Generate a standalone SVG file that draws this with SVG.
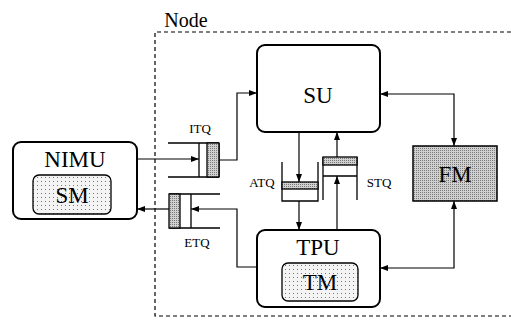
<svg xmlns="http://www.w3.org/2000/svg" width="511" height="326" viewBox="0 0 511 326">
<defs>
<pattern id="light" width="4" height="4" patternUnits="userSpaceOnUse">
<rect width="4" height="4" fill="#f4f4f4"/>
<rect x="1" y="1" width="1" height="1" fill="#777"/>
</pattern>
<pattern id="dense" width="2" height="2" patternUnits="userSpaceOnUse">
<rect width="2" height="2" fill="#d0d0d0"/>
<rect x="0" y="0" width="1" height="1" fill="#7a7a7a"/>
</pattern>
<marker id="arr" viewBox="0 0 8 6" refX="8" refY="3" markerWidth="8" markerHeight="6" markerUnits="userSpaceOnUse" orient="auto-start-reverse">
<path d="M0,0 L8,3 L0,6 z" fill="#000"/>
</marker>
<style>
.box{fill:#fff;stroke:#000;stroke-width:2}
.inner{fill:url(#light);stroke:#000;stroke-width:1.3}
.q{fill:none;stroke:#000;stroke-width:1.3}
.qg{fill:url(#dense);stroke:#000;stroke-width:1.3}
.c{fill:none;stroke:#000;stroke-width:1.2}
.big{font-family:"Liberation Serif","Times New Roman",serif;font-size:23px;text-anchor:middle;fill:#000}
.lbl{font-family:"Liberation Serif","Times New Roman",serif;font-size:13px;text-anchor:middle;fill:#000}
</style>
</defs>
<rect width="511" height="326" fill="#fff"/>
<g id="node-frame">
<path d="M511,32 H155 V316 H511" fill="none" stroke="#000" stroke-width="1.2" stroke-dasharray="4,3"/>
<text x="186" y="27" style="font-family:'Liberation Serif','Times New Roman',serif;font-size:20px;text-anchor:middle">Node</text>
</g>
<g id="NIMU">
<rect class="box" x="13" y="142" width="124" height="77" rx="8"/>
<text class="big" x="75" y="167">NIMU</text>
<g id="SM">
<rect class="inner" x="33" y="175" width="78" height="39" rx="6"/>
<text class="big" x="72" y="203">SM</text>
</g>
</g>
<g id="SU">
<rect class="box" x="257" y="45" width="123" height="87" rx="8"/>
<text class="big" x="318" y="103">SU</text>
</g>
<g id="TPU">
<rect class="box" x="257" y="230" width="123" height="77" rx="8"/>
<text class="big" x="318" y="255">TPU</text>
<g id="TM">
<rect class="inner" x="282" y="263" width="76" height="38" rx="6"/>
<text class="big" x="320" y="290">TM</text>
</g>
</g>
<g id="FM">
<rect x="413" y="146" width="84" height="55" fill="url(#dense)" stroke="#000" stroke-width="1.5"/>
<text class="big" x="455" y="182">FM</text>
</g>
<g id="ITQ">
<path class="q" d="M168,143 H219 M168,177 H219 M199,143 V177 M219,143 V177"/>
<rect class="qg" x="207" y="143" width="12" height="34"/>
<text class="lbl" x="200" y="133">ITQ</text>
</g>
<g id="ETQ">
<path class="q" d="M169,194 H220 M169,228 H220 M191,194 V228"/>
<rect class="qg" x="169" y="194" width="11" height="34"/>
<text class="lbl" x="197" y="247">ETQ</text>
</g>
<g id="ATQ">
<path class="q" d="M282,162 V201 H318 V162"/>
<rect class="qg" x="282" y="182" width="36" height="7"/>
<text class="lbl" x="262" y="187">ATQ</text>
</g>
<g id="STQ">
<path class="q" d="M323,200 V157 M357,200 V157 M323,176 H357"/>
<rect class="qg" x="323" y="157" width="34" height="8"/>
<text class="lbl" x="379" y="187">STQ</text>
</g>
<g id="connectors">
<path class="c" d="M137,159 H199" marker-end="url(#arr)"/>
<path class="c" d="M219,160 H237 V93 H257" marker-end="url(#arr)"/>
<path class="c" d="M380,94 H454 V146" marker-start="url(#arr)" marker-end="url(#arr)"/>
<path class="c" d="M454,201 V268 H380" marker-start="url(#arr)" marker-end="url(#arr)"/>
<path class="c" d="M299,132 V182" marker-end="url(#arr)"/>
<path class="c" d="M299,201 V230" marker-end="url(#arr)"/>
<path class="c" d="M337,230 V176" marker-end="url(#arr)"/>
<path class="c" d="M337,157 V132" marker-end="url(#arr)"/>
<path class="c" d="M257,267 H237 V209 H191" marker-end="url(#arr)"/>
<path class="c" d="M169,209 H137" marker-end="url(#arr)"/>
</g>
</svg>
